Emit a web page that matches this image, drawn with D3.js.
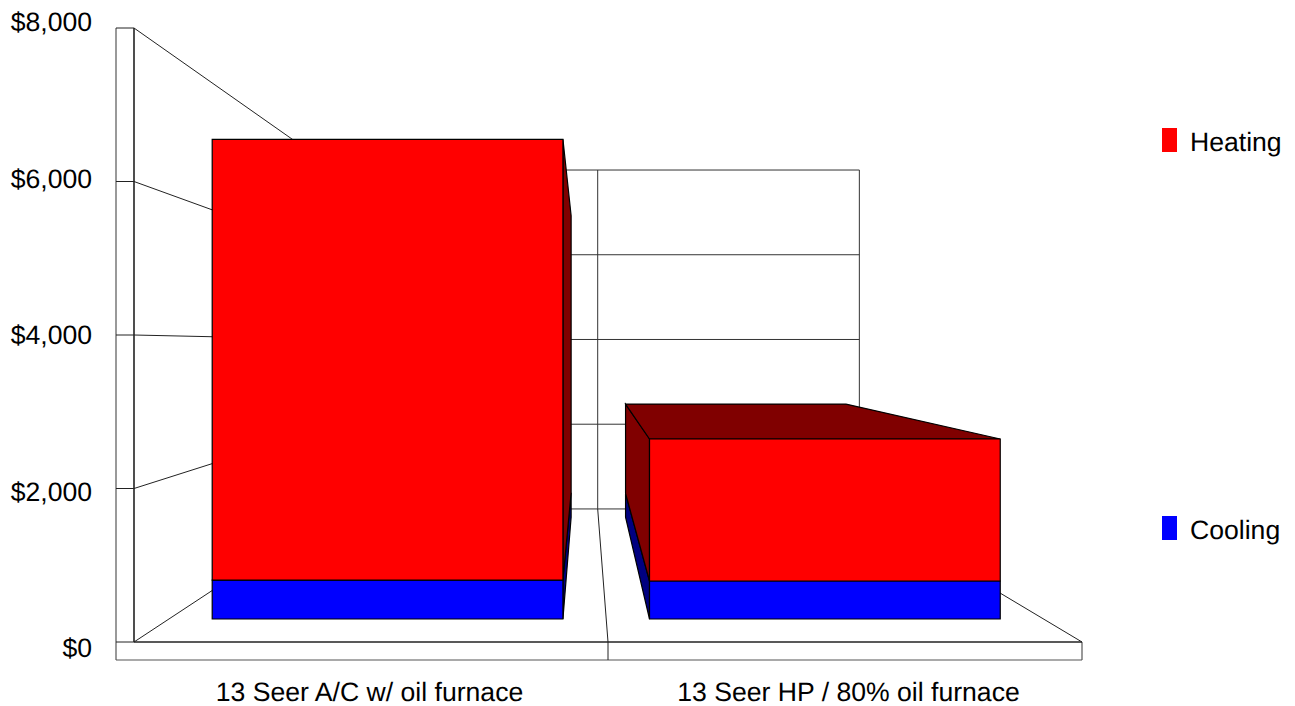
<!DOCTYPE html>
<html><head><meta charset="utf-8">
<script src="https://cdn.jsdelivr.net/npm/d3@7"></script>
<style>html,body{margin:0;padding:0;background:#fff}svg{display:block}text{font-family:"Liberation Sans",Arial,sans-serif;fill:#000;text-rendering:geometricPrecision}</style>
</head><body><svg id="c" width="1295" height="706"></svg>
<script>
const categories = ["13 Seer A/C w/ oil furnace", "13 Seer HP / 80% oil furnace"];
const cooling = [550, 537];
const heating = [6225, 2005];
const yTicks = [0, 2000, 4000, 6000, 8000];
const seriesNames = ["Heating", "Cooling"];

const svg = d3.select("#c");
const vp = [585, 345];                 // vanishing point
const sBack = 0.552, sBarFront = 0.9226, sBarBack = 0.58;
const x = d3.scaleBand().domain(categories).range([134, 1082]).paddingInner(0.198).paddingOuter(0.099);
const xEdge = d3.scaleLinear().domain([0, categories.length]).range([134, 1082]);
const y = d3.scaleLinear().domain([0, 8000]).range([642, 28]);
const P = (X, Y, s) => [vp[0] + (X - vp[0]) * s, vp[1] + (Y - vp[1]) * s];
const line = (a, b, sw = 1, col = "#000") => svg.append("line")
  .attr("x1", a[0]).attr("y1", a[1]).attr("x2", b[0]).attr("y2", b[1])
  .attr("stroke", col).attr("stroke-width", sw);
const poly = (pts, fill) => svg.append("polygon").attr("points", pts.map(p => p.join(",")).join(" "))
  .attr("fill", fill).attr("stroke", "#000").attr("stroke-width", 1.2);

const Xl = 134, Xr = 1082, XlOuter = 116, yBase = 660;
line([XlOuter, y(8000)], [XlOuter, yBase], 1.2, "#555");
line([XlOuter, yBase], [Xr, yBase], 1.2, "#555");
line([Xr, y(0)], [Xr, yBase], 1.2, "#555");
line([Xl, y(8000)], [Xl, y(0)], 1.6, "#222");
line([Xl, y(0)], [Xr, y(0)], 1.6, "#222");
yTicks.forEach(t => {
  line([XlOuter, y(t)], [Xl, y(t)], 1, "#222");
  line([Xl, y(t)], P(Xl, y(t), sBack), 1, "#222");
  line(P(Xl, y(t), sBack), P(Xr, y(t), sBack), 1, "#333");
});
line(P(Xr, y(8000), sBack), P(Xr, y(0), sBack), 1, "#333");
line([Xr, y(0)], P(Xr, y(0), sBack), 1, "#222");
d3.range(1, categories.length).forEach(i => {
  const X = xEdge(i);
  line([X, yBase], [X, y(0)], 1, "#222");
  line([X, y(0)], P(X, y(0), sBack), 1, "#222");
  line(P(X, y(0), sBack), P(X, y(8000), sBack), 1, "#333");
});
const faces = [["#ff0000", "#800000"], ["#0000ff", "#000080"]];
categories.forEach((c, i) => {
  const L = x(c), R = L + x.bandwidth();
  const sideX = (L + R) / 2 < vp[0] ? R : L;
  const segs = [[0, cooling[i], 1], [cooling[i], cooling[i] + heating[i], 0]];
  segs.forEach(([a, b, k]) => {
    poly([P(sideX, y(a), sBarFront), P(sideX, y(b), sBarFront), P(sideX, y(b), sBarBack), P(sideX, y(a), sBarBack)], faces[k][1]);
  });
  const top = cooling[i] + heating[i];
  if (y(top) > vp[1]) poly([P(L, y(top), sBarFront), P(R, y(top), sBarFront), P(R, y(top), sBarBack), P(L, y(top), sBarBack)], faces[0][1]);
  segs.forEach(([a, b, k]) => {
    poly([P(L, y(a), sBarFront), P(R, y(a), sBarFront), P(R, y(b), sBarFront), P(L, y(b), sBarFront)], faces[k][0]);
  });
});
const yLab = d3.scaleLinear().domain([0, 8000]).range([648, 22]);
const fontSize = 26.6;
const axL = svg.append("g").attr("transform", "translate(92,0)")
  .call(d3.axisLeft(yLab).tickValues(yTicks).tickFormat(d3.format("$,")).tickSize(0).tickPadding(0));
axL.select(".domain").remove();
axL.selectAll("text").style("font-size", fontSize + "px").style("font-family", '"Liberation Sans"');
const xLab = d3.scaleBand().domain(categories).range([130, 1088]);
const axB = svg.append("g").attr("transform", "translate(0,692)")
  .call(d3.axisBottom(xLab).tickSize(0).tickPadding(0));
axB.select(".domain").remove();
axB.selectAll("text").attr("dy", "0.32em").attr("y", 0).style("font-size", fontSize + "px").style("font-family", '"Liberation Sans"');
const legY = d3.scalePoint().domain(seriesNames).range([140, 528]);
const legColor = d3.scaleOrdinal().domain(seriesNames).range(["#ff0000", "#0000ff"]);
seriesNames.forEach(n => {
  svg.append("rect").attr("x", 1162).attr("y", legY(n) - 12).attr("width", 15).attr("height", 24).attr("fill", legColor(n));
  svg.append("text").attr("x", 1190).attr("y", legY(n) + 2).attr("dy", "0.35em").style("font-size", fontSize + "px").text(n);
});
</script></body></html>
